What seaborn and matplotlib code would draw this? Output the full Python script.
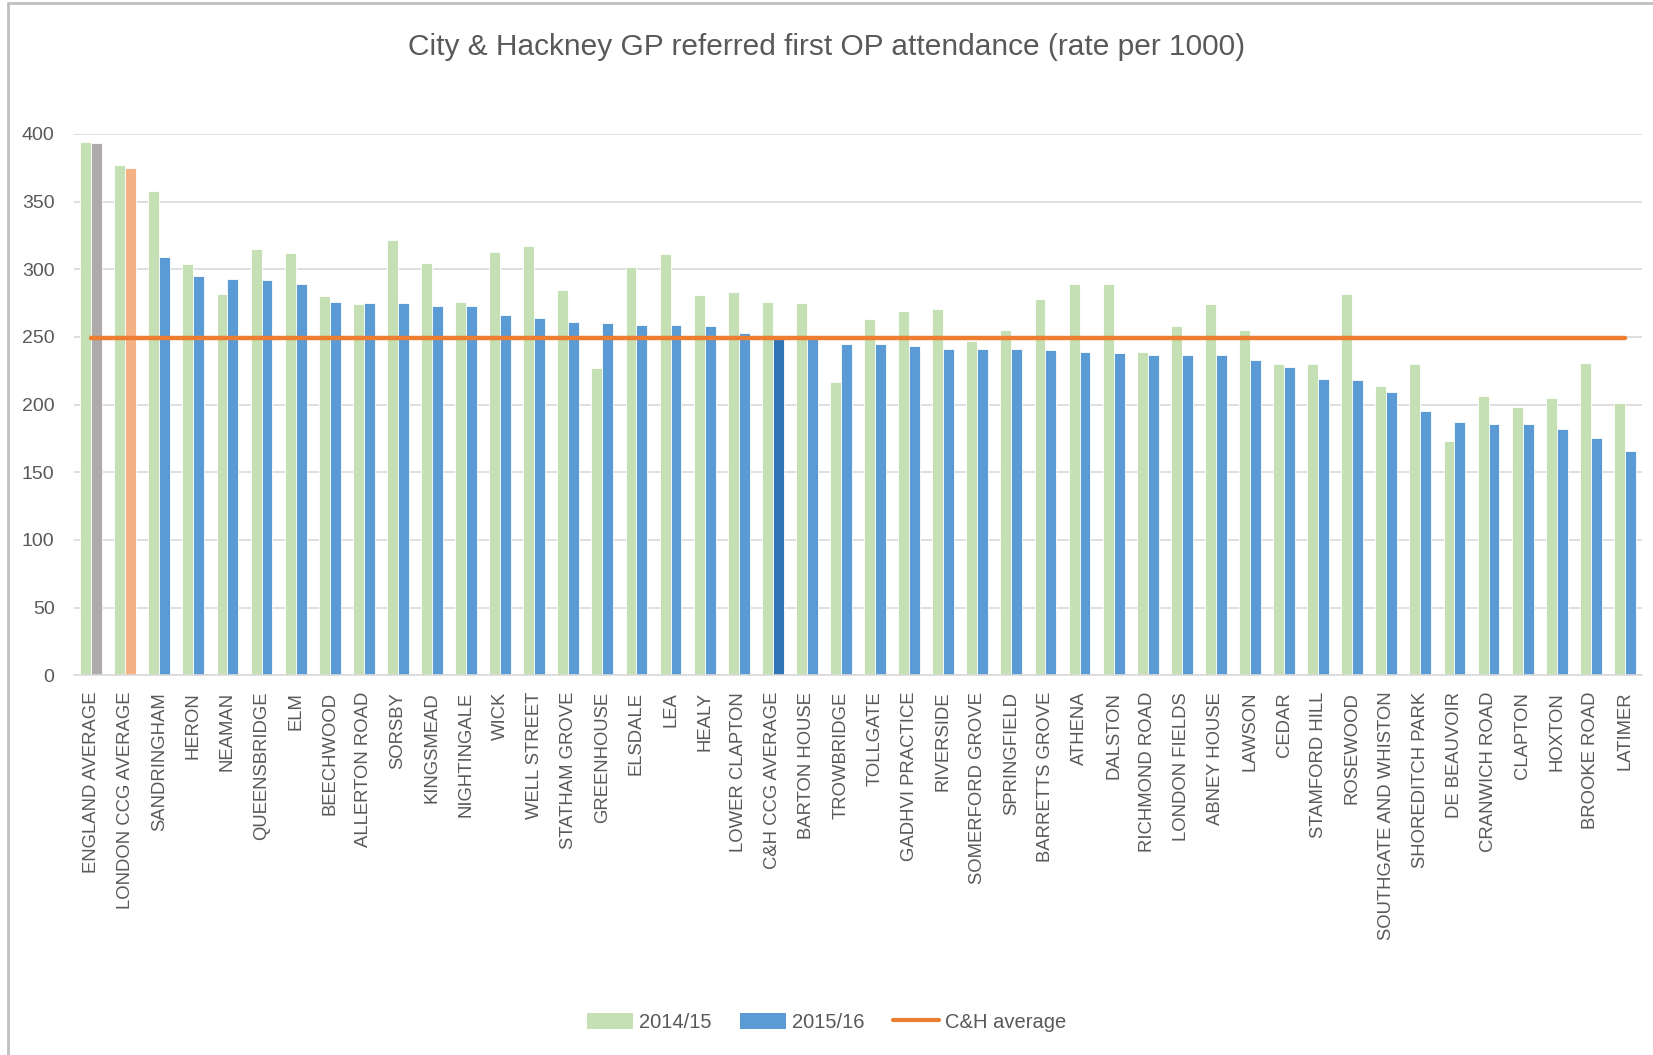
import matplotlib
matplotlib.use("Agg")
import matplotlib.pyplot as plt
from matplotlib.patches import Patch
from matplotlib.lines import Line2D
import seaborn as sns
import pandas as pd
import numpy as np

categories = [
    "ENGLAND AVERAGE", "LONDON CCG AVERAGE", "SANDRINGHAM", "HERON", "NEAMAN",
    "QUEENSBRIDGE", "ELM", "BEECHWOOD", "ALLERTON ROAD", "SORSBY", "KINGSMEAD",
    "NIGHTINGALE", "WICK", "WELL STREET", "STATHAM GROVE", "GREENHOUSE", "ELSDALE",
    "LEA", "HEALY", "LOWER CLAPTON", "C&H CCG AVERAGE", "BARTON HOUSE", "TROWBRIDGE",
    "TOLLGATE", "GADHVI PRACTICE", "RIVERSIDE", "SOMERFORD GROVE", "SPRINGFIELD",
    "BARRETTS GROVE", "ATHENA", "DALSTON", "RICHMOND ROAD", "LONDON FIELDS",
    "ABNEY HOUSE", "LAWSON", "CEDAR", "STAMFORD HILL", "ROSEWOOD",
    "SOUTHGATE AND WHISTON", "SHOREDITCH PARK", "DE BEAUVOIR", "CRANWICH ROAD",
    "CLAPTON", "HOXTON", "BROOKE ROAD", "LATIMER",
]

values_2014 = [
    394, 377, 358, 304, 282, 315, 312, 280, 274, 322, 305,
    276, 313, 317, 285, 227, 302, 311, 281, 283, 276, 275, 217,
    263, 269, 271, 247, 255, 278, 289, 289, 239, 258,
    274, 255, 230, 230, 282, 214, 230, 173, 206,
    198, 205, 231, 201,
]

values_2015 = [
    393, 375, 309, 295, 293, 292, 289, 276, 275, 275, 273,
    273, 266, 264, 261, 260, 259, 259, 258, 253, 249, 249, 245,
    245, 243, 241, 241, 241, 240, 239, 238, 237, 237,
    237, 233, 228, 219, 218, 209, 195, 187, 186,
    186, 182, 175, 166,
]

ch_average = 249

series_names = ["2014/15", "2015/16"]

df = pd.DataFrame({
    "practice": categories * 2,
    "rate": values_2014 + values_2015,
    "year": [series_names[0]] * len(categories) + [series_names[1]] * len(categories),
})

GREEN = "#C5E0B4"
BLUE = "#5B9BD5"
DARK_BLUE = "#2E75B6"
GREY = "#AEAAAA"
LIGHT_ORANGE = "#F4B183"
ORANGE = "#ED7D31"
TEXT = "#595959"
GRID = "#D9D9D9"

sns.set_theme(style="white")
plt.rcParams["font.family"] = ["Liberation Sans", "DejaVu Sans"]

fig = plt.figure(figsize=(16.53, 10.55), dpi=100)
ax = fig.add_axes([0.0448, 0.360, 0.9485, 0.513])

sns.barplot(data=df, x="practice", y="rate", hue="year", order=categories,
            hue_order=series_names, palette=[GREEN, BLUE], width=0.64,
            saturation=1, ax=ax, legend=False, edgecolor="white", linewidth=0.6)

# Special colouring for the 2015/16 reference bars
special = {"ENGLAND AVERAGE": GREY, "LONDON CCG AVERAGE": LIGHT_ORANGE,
           "C&H CCG AVERAGE": DARK_BLUE}
for cat, col in special.items():
    idx = categories.index(cat)
    ax.containers[1].patches[idx].set_facecolor(col)

# C&H average line across category centres
xs = np.arange(len(categories))
sns.lineplot(x=xs, y=[ch_average] * len(categories), color=ORANGE, linewidth=3.2,
             ax=ax, legend=False, zorder=5)

ax.set_xlim(-0.5, len(categories) - 0.5)
ax.set_ylim(0, 400)
ax.set_yticks(range(0, 401, 50))
ax.yaxis.grid(True, color=GRID, linewidth=1.2)
ax.set_axisbelow(True)
for s in ["top", "right", "left"]:
    ax.spines[s].set_visible(False)
ax.spines["bottom"].set_color(GRID)
ax.spines["bottom"].set_linewidth(1.2)

ax.set_xlabel("")
ax.set_ylabel("")
ax.tick_params(axis="x", labelrotation=90, labelsize=13.3, colors=TEXT, length=0, pad=12)
ax.tick_params(axis="y", labelsize=14, colors=TEXT, length=0, pad=14)

fig.text(0.5, 0.955, "City & Hackney GP referred first OP attendance (rate per 1000)",
         ha="center", va="center", fontsize=21.5, color=TEXT)

handles = [Patch(facecolor=GREEN, edgecolor="none"),
           Patch(facecolor=BLUE, edgecolor="none"),
           Line2D([0], [0], color=ORANGE, linewidth=3)]
fig.legend(handles, ["2014/15", "2015/16", "C&H average"], loc="center",
           bbox_to_anchor=(0.5, 0.031), ncol=3, frameon=False, fontsize=14.5,
           labelcolor=TEXT, handlelength=2.3, handleheight=0.9, columnspacing=1.4,
           handletextpad=0.3)

# screenshot frame (left and top border)
fig.add_artist(Line2D([0.005, 0.005], [0, 0.997], transform=fig.transFigure,
                      color="#BFBFBF", linewidth=2))
fig.add_artist(Line2D([0.005, 1.0], [0.997, 0.997], transform=fig.transFigure,
                      color="#BFBFBF", linewidth=2))

fig.savefig("out.png", dpi=100, facecolor="white")
